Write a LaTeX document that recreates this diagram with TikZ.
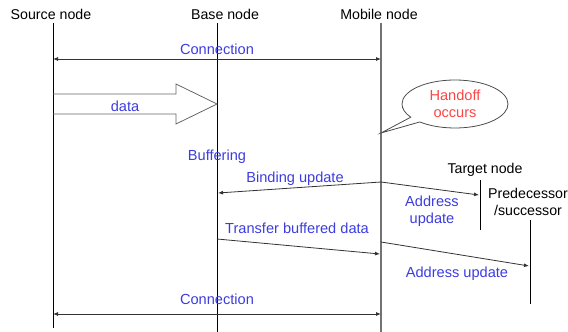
\documentclass[tikz,border=0pt]{standalone}
\usepackage{fontspec}
\setmainfont{Liberation Sans}
\usetikzlibrary{arrows.meta,shapes.callouts}
\definecolor{msgblue}{RGB}{60,60,225}
\definecolor{handred}{RGB}{250,70,70}
\tikzset{
  life/.style={line width=0.8pt},
  tip/.tip={Latex[length=5pt,width=4pt]},
  msg/.style={line width=0.8pt, black!80, -tip},
  both/.style={line width=0.8pt, black!80, tip-tip},
  lbl/.style={text=msgblue, inner sep=1pt, align=center,
    font=\fontsize{14.6}{17}\selectfont}
}
\begin{document}
\begin{tikzpicture}[x=1pt,y=-1pt,font=\fontsize{14.2}{17}\selectfont]
  \useasboundingbox (0,0) rectangle (568,332);
  % Node names
  \node (src) at (51,14) {Source node};
  \node (bas) at (225,14) {Base node};
  \node (mob) at (379,14) {Mobile node};
  \node (tgt) at (485,170) {Target node};
  \node[align=center] (pre) at (528,202) {Predecessor\\/successor};
  % Lifelines
  \coordinate (src-top) at (53,23);  \coordinate (src-bot) at (53,328);
  \coordinate (bas-top) at (217,23); \coordinate (bas-bot) at (217,332);
  \coordinate (mob-top) at (381,23); \coordinate (mob-bot) at (381,332);
  \coordinate (tgt-top) at (480,180); \coordinate (tgt-bot) at (480,230);
  \coordinate (pre-top) at (530,220); \coordinate (pre-bot) at (530,304);
  \draw[life] (src-top) -- (src-bot);
  \draw[life] (bas-top) -- (bas-bot);
  \draw[line width=1.2pt, black!55] (mob-top) -- (mob-bot);
  \draw[life] (tgt-top) -- (tgt-bot);
  \draw[life] (pre-top) -- (pre-bot);
  % Connection
  \coordinate (c1-src) at (53,59); \coordinate (c1-mob) at (381,59);
  \draw[both] (c1-src) -- (c1-mob);
  \node[lbl] (conn1) at (217,49) {Connection};
  % Data arrow
  \coordinate (d-tip) at (217,104);
  \draw[black!60, line width=0.8pt] (53,94) -- (176,94) -- (176,84) -- (d-tip)
    -- (176,124) -- (176,114) -- (53,114);
  \node[lbl] (data) at (125,106) {data};
  % Handoff callout
  \coordinate (hand) at (381,133);
  \node[ellipse callout, draw=black!70, line width=0.8pt, text=handred,
    align=center, minimum width=106pt, minimum height=48pt, inner sep=0pt,
    font=\fontsize{14.6}{17}\selectfont,
    callout absolute pointer={(hand)}] (ho) at (455,104) {Handoff\\occurs};
  \node[lbl] (buf) at (217,157) {Buffering};
  % Binding update
  \coordinate (bu-mob) at (381,182); \coordinate (bu-bas) at (218,193);
  \draw[msg] (bu-mob) -- (bu-bas);
  \node[lbl] (bu) at (295,179) {Binding update};
  \coordinate (au-tgt) at (479,195);
  \draw[msg] (bu-mob) -- (au-tgt);
  \node[lbl] (au1) at (432,211) {Address\\update};
  % Transfer buffered data
  \coordinate (tr-bas) at (217,239); \coordinate (tr-mob) at (380,254);
  \draw[msg] (tr-bas) -- (tr-mob);
  \node[lbl] (tr) at (297,228) {Transfer buffered data};
  \coordinate (au-mob) at (381,242); \coordinate (au-pre) at (529,266);
  \draw[msg] (au-mob) -- (au-pre);
  \node[lbl] (au2) at (457,274) {Address update};
  % Connection
  \coordinate (c2-src) at (53,314); \coordinate (c2-mob) at (381,314);
  \draw[both] (c2-src) -- (c2-mob);
  \node[lbl] (conn2) at (217,299) {Connection};
\end{tikzpicture}
\end{document}
